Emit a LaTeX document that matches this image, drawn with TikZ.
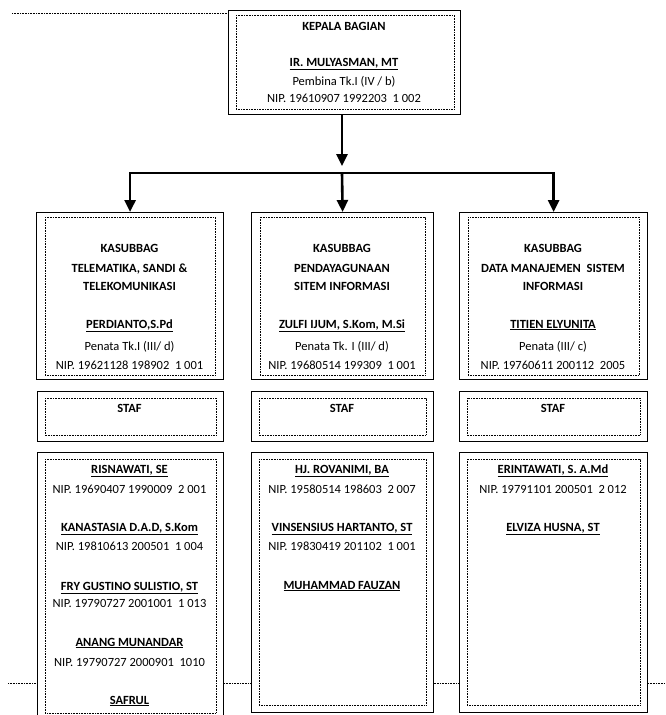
\documentclass[tikz,border=0pt]{standalone}
\usepackage{fontspec}
\setmainfont{Carlito}
\usetikzlibrary{arrows.meta,calc}
\begin{document}
\begin{tikzpicture}[x=1pt,y=-1pt,
  outer/.style={draw, line width=1.2pt, fill=white, inner sep=0pt, anchor=north west},
  innerbox/.style={draw, line width=0.7pt, dash pattern=on 0.8pt off 0.8pt},
  txt/.style={font=\fontsize{12.5}{15}\selectfont, inner sep=0pt, anchor=base},
  btxt/.style={font=\fontsize{12.5}{15}\selectfont\bfseries, inner sep=0pt, anchor=base},
  arr/.style={line width=2.6pt, line join=miter, -{Triangle[length=12pt,width=11pt]}},
  pagedot/.style={line width=0.7pt, dash pattern=on 0.8pt off 0.8pt}]

\fill[white] (0,0) rectangle (665,715);
\useasboundingbox (0,0) rectangle (665,715);

% page dotted lines
\coordinate (pd1) at (12,13);
\coordinate (pd2) at (8,683);
\coordinate (pd3) at (665,683);
\draw[pagedot] (pd2) -- (pd3);

% top box
\node[outer, minimum width=232pt, minimum height=104pt] (top) at (228,10) {};
\draw[innerbox] ($(top.north west)+(8,5)$) rectangle ($(top.south east)+(-7,-6)$);
\draw[pagedot] (pd1) -- (pd1 -| top.west);
\node[btxt] (t1) at (344,30) {KEPALA BAGIAN};
\node[btxt] (t2) at (344,66) {\underline{IR. MULYASMAN, MT}};
\node[txt]  (t3) at (344,85) {Pembina Tk.I (IV / b)};
\node[txt]  (t4) at (344,102) {NIP. 19610907 1992203\ \ 1 002};

% second row boxes
\node[outer, minimum width=187pt, minimum height=167pt] (kL) at (36,212) {};
\node[outer, minimum width=182pt, minimum height=167pt] (kM) at (251,212) {};
\node[outer, minimum width=188pt, minimum height=167pt] (kR) at (459,212) {};
\foreach \b in {kL,kM,kR}{
  \draw[innerbox] ($(\b.north west)+(9,5)$) rectangle ($(\b.south east)+(-9,-5)$);
}

% connectors
\coordinate (hubTop) at (342,166);
\coordinate (hubM) at (342,173);
\draw[arr] (hubTop |- top.south) -- (hubTop);
\draw[arr] (hubM) -| (kL.north);
\draw[arr] (hubM) -| (kR.north);
\draw[arr] (hubM) -- (kM.north);

% left kasubbag text
\node[btxt] (l1) at (129.5,252) {KASUBBAG};
\node[btxt] (l2) at (129.5,272) {TELEMATIKA, SANDI \&};
\node[btxt] (l3) at (129.5,290) {TELEKOMUNIKASI};
\node[btxt] (l4) at (129.5,328) {\underline{PERDIANTO,S.Pd}};
\node[txt]  (l5) at (129.5,350) {Penata Tk.I (III/ d)};
\node[txt]  (l6) at (129.5,369) {NIP. 19621128 198902\ \ 1 001};

% middle kasubbag text
\node[btxt] (m1) at (342,252) {KASUBBAG};
\node[btxt] (m2) at (342,272) {PENDAYAGUNAAN};
\node[btxt] (m3) at (342,290) {SITEM INFORMASI};
\node[btxt] (m4) at (342,328) {\underline{ZULFI IJUM, S.Kom, M.Si}};
\node[txt]  (m5) at (342,350) {Penata Tk. I (III/ d)};
\node[txt]  (m6) at (342,369) {NIP. 19680514 199309\ \ 1 001};

% right kasubbag text
\node[btxt] (r1) at (553,252) {KASUBBAG};
\node[btxt] (r2) at (553,272) {DATA MANAJEMEN\ \ SISTEM};
\node[btxt] (r3) at (553,290) {INFORMASI};
\node[btxt] (r4) at (553,328) {\underline{TITIEN ELYUNITA}};
\node[txt]  (r5) at (553,350) {Penata (III/ c)};
\node[txt]  (r6) at (553,369) {NIP. 19760611 200112\ \ 2005};

% STAF boxes
\node[outer, minimum width=186pt, minimum height=50pt] (sL) at (37,391) {};
\node[outer, minimum width=182pt, minimum height=50pt] (sM) at (251,391) {};
\node[outer, minimum width=188pt, minimum height=50pt] (sR) at (459,391) {};
\foreach \b in {sL,sM,sR}{
  \draw[innerbox] ($(\b.north west)+(8,7)$) rectangle ($(\b.south east)+(-8,-7)$);
}
\node[btxt] (sLt) at (129.5,412) {STAF};
\node[btxt] (sMt) at (342,412) {STAF};
\node[btxt] (sRt) at (553,412) {STAF};

% staff lists
\node[outer, minimum width=186pt, minimum height=270pt] (pL) at (37,452) {};
\node[outer, minimum width=182pt, minimum height=260pt] (pM) at (251,452) {};
\node[outer, minimum width=188pt, minimum height=260pt] (pR) at (459,452) {};
\draw[innerbox] ($(pL.north west)+(8,7)$) rectangle ($(pL.north east)+(-8,261)$);
\draw[innerbox] ($(pM.north west)+(8,7)$) rectangle ($(pM.south east)+(-8,-8)$);
\draw[innerbox] ($(pR.north west)+(8,7)$) rectangle ($(pR.south east)+(-8,-8)$);

\node[btxt] (a1) at (129.5,473) {\underline{RISNAWATI, SE}};
\node[txt]  (a2) at (129.5,493) {NIP. 19690407 1990009\ \ 2 001};
\node[btxt] (a3) at (129.5,531) {\underline{KANASTASIA D.A.D, S.Kom}};
\node[txt]  (a4) at (129.5,550) {NIP. 19810613 200501\ \ 1 004};
\node[btxt] (a5) at (129.5,590) {\underline{FRY GUSTINO SULISTIO, ST}};
\node[txt]  (a6) at (129.5,607) {NIP. 19790727 2001001\ \ 1 013};
\node[btxt] (a7) at (129.5,646) {\underline{ANANG MUNANDAR}};
\node[txt]  (a8) at (129.5,666) {NIP. 19790727 2000901\ \ 1010};
\node[btxt] (a9) at (129.5,704) {\underline{SAFRUL}};

\node[btxt] (b1) at (342,473) {\underline{HJ. ROVANIMI, BA}};
\node[txt]  (b2) at (342,493) {NIP. 19580514 198603\ \ 2 007};
\node[btxt] (b3) at (342,531) {\underline{VINSENSIUS HARTANTO, ST}};
\node[txt]  (b4) at (342,550) {NIP. 19830419 201102\ \ 1 001};
\node[btxt] (b5) at (342,589) {\underline{MUHAMMAD FAUZAN}};

\node[btxt] (c1) at (553,473) {\underline{ERINTAWATI, S. A.Md}};
\node[txt]  (c2) at (553,493) {NIP. 19791101 200501\ \ 2 012};
\node[btxt] (c3) at (553,531) {\underline{ELVIZA HUSNA, ST}};

\end{tikzpicture}
\end{document}
